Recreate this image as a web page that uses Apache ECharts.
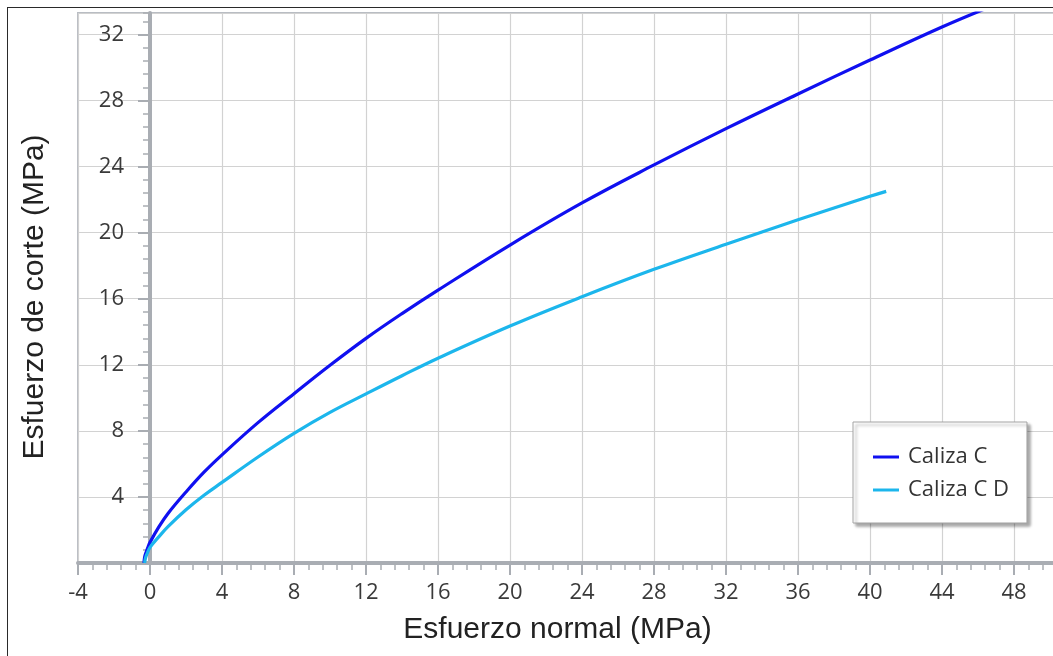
<!DOCTYPE html>
<html><head><meta charset="utf-8">
<script src="https://cdn.jsdelivr.net/npm/echarts@6/dist/echarts.min.js"></script>
<style>
html,body{margin:0;padding:0;background:#fff;overflow:hidden;}
#chart{position:absolute;left:0;top:0;width:1053px;height:656px;}
#frame{position:absolute;left:7px;top:7px;width:1100px;height:700px;border:1px solid #2a2a2a;pointer-events:none;}
</style></head><body>
<div id="chart"></div><div id="frame"></div>
<script>
// ---- data ----
const seriesNames = ['Caliza C', 'Caliza C D'];
const calizaC_x = [-0.33, -0.3, -0.2, -0.1, 0, 0.5, 1, 2, 3, 4, 6, 8, 10, 12, 14, 16, 20, 24, 28, 32, 36, 40, 44, 46.5];
const calizaC_y = [0, 0.35, 0.7, 1.0, 1.25, 2.2, 3.0, 4.3, 5.5, 6.55, 8.5, 10.25, 11.97, 13.6, 15.1, 16.52, 19.25, 21.8, 24.1, 26.3, 28.4, 30.45, 32.45, 33.6];
const calizaCD_x = [-0.3, -0.25, -0.15, 0, 0.5, 1, 2, 3, 4, 6, 8, 10, 12, 14, 16, 20, 24, 28, 32, 36, 40, 40.9];
const calizaCD_y = [0, 0.3, 0.6, 0.95, 1.6, 2.2, 3.22, 4.1, 4.88, 6.42, 7.85, 9.12, 10.24, 11.34, 12.4, 14.35, 16.12, 17.78, 19.3, 20.78, 22.2, 22.5];
const xMin = -4, xMax = 52, yMin = 0, yMax = 33.3;
const majorStep = 4, minorStep = 0.8;
const xTitle = 'Esfuerzo normal (MPa)';
const yTitle = 'Esfuerzo de corte (MPa)';
const colors = ['#1010f0', '#1cb6ec'];

const pairs = (xs, ys) => xs.map((x, i) => [x, ys[i]]);

const axisGrey = '#a9adb3';
const labelFont = 'Open Sans';
const titleFont = 'Liberation Sans';

const chart = echarts.init(document.getElementById('chart'), null, {renderer: 'canvas'});
chart.setOption({
  animation: false,
  backgroundColor: 'transparent',
  grid: {
    left: 78, top: 13, right: -33, bottom: 93,
    outerBoundsMode: 'none', containLabel: false,
    show: true, borderColor: '#b9bdc3', borderWidth: 2, backgroundColor: 'transparent'
  },
  legend: {
    orient: 'vertical',
    left: 853, top: 422,
    data: seriesNames,
    icon: 'rect', itemWidth: 26, itemHeight: 3, itemGap: 7,
    padding: [22, 18, 20, 20],
    backgroundColor: '#fff', borderColor: '#a3a3a3', borderWidth: 1,
    shadowColor: 'rgba(0,0,0,0.35)', shadowBlur: 3, shadowOffsetX: 3, shadowOffsetY: 3,
    textStyle: {fontFamily: labelFont, fontSize: 22, color: '#333', lineHeight: 26, padding: [0, 0, 0, 4]}
  },
  xAxis: [{
    type: 'value', min: xMin, max: xMax, interval: majorStep,
    position: 'bottom',
    axisLine: {onZero: false, lineStyle: {color: axisGrey, width: 4}},
    axisTick: {length: 12, lineStyle: {color: axisGrey, width: 2}},
    minorTick: {show: true, splitNumber: 5, length: 7, lineStyle: {color: axisGrey, width: 1.5}},
    axisLabel: {margin: 19, fontFamily: labelFont, fontSize: 22, color: '#3a3a3a'},
    splitLine: {show: true, lineStyle: {color: '#d2d2d2', width: 1.2}},
    name: xTitle, nameLocation: 'middle', nameGap: 52,
    nameTextStyle: {fontFamily: titleFont, fontSize: 30, color: '#222', padding: [0, 49, 0, 0]}
  }],
  yAxis: [{
    type: 'value', min: yMin, max: yMax, interval: majorStep,
    position: 'left', offset: -72,
    axisLine: {onZero: false, lineStyle: {color: axisGrey, width: 4}},
    axisTick: {length: 12, lineStyle: {color: axisGrey, width: 2}},
    axisLabel: {margin: 26, fontFamily: labelFont, fontSize: 22, color: '#3a3a3a', showMinLabel: false, showMaxLabel: false},
    splitLine: {show: true, lineStyle: {color: '#d2d2d2', width: 1.2}},
    name: yTitle, nameLocation: 'middle', nameGap: 100,
    nameTextStyle: {fontFamily: titleFont, fontSize: 30, color: '#222', padding: [0, 18, 0, 0]}
  }, {
    type: 'value', min: yMin, max: yMax, interval: minorStep,
    position: 'left', offset: -72,
    axisLine: {show: false, onZero: false},
    axisTick: {length: 7, lineStyle: {color: axisGrey, width: 1.5}},
    axisLabel: {show: false},
    splitLine: {show: false}
  }],
  series: [{
    name: seriesNames[0], type: 'line', data: pairs(calizaC_x, calizaC_y),
    xAxisIndex: 0, yAxisIndex: 0,
    showSymbol: false, symbol: 'none', smooth: 0.4, clip: true,
    lineStyle: {color: colors[0], width: 3.2}, itemStyle: {color: colors[0]}
  }, {
    name: seriesNames[1], type: 'line', data: pairs(calizaCD_x, calizaCD_y),
    xAxisIndex: 0, yAxisIndex: 0,
    showSymbol: false, symbol: 'none', smooth: 0.4, clip: true,
    lineStyle: {color: colors[1], width: 3.2}, itemStyle: {color: colors[1]}
  }]
});
</script>
</body></html>
